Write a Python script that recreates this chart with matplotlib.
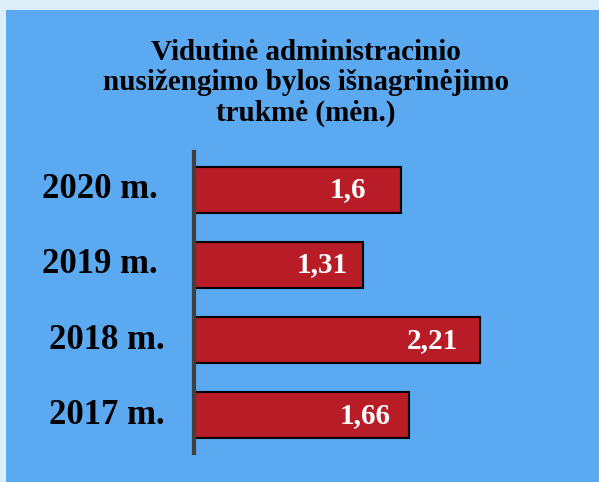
import matplotlib.pyplot as plt
import matplotlib.patches as patches

years = ['2020 m.', '2019 m.', '2018 m.', '2017 m.']
values = [1.6, 1.31, 2.21, 1.66]
value_texts = ['1,6', '1,31', '2,21', '1,66']
title = 'Vidutinė administracinio\nnusižengimo bylos išnagrinėjimo\ntrukmė (mėn.)'

border_color = '#DCEEF8'
panel_color = '#5AA9F1'
bar_color = '#B81C27'

plt.rcParams['font.family'] = ['Liberation Serif', 'DejaVu Serif']

fig = plt.figure(figsize=(5.99, 4.82), dpi=100, facecolor=border_color)
fig.patches.append(patches.Rectangle((6 / 599, 0), 1, 472 / 482, transform=fig.transFigure,
                                     facecolor=panel_color, edgecolor='none', zorder=-10))

ax = fig.add_axes([194 / 599, 29 / 482, 366 / 599, 301 / 482])
ax.set_facecolor('none')

pos = list(range(len(years)))[::-1]
ax.barh(pos, values, height=0.61, color=bar_color, edgecolor='black', linewidth=1.5, zorder=3)
ax.set_xlim(0, 2.83)
ax.set_ylim(-0.5, 3.5)

# value labels inside the bar end
gaps = [25, 11, 16, 13]
for p, v, t, g in zip(pos, values, value_texts, gaps):
    ax.annotate(t, (v, p), xytext=(-g, 0), textcoords='offset points',
                ha='right', va='center', color='white', fontsize=21, fontweight='bold')

# category labels
pads = [26, 26, 21, 21]
for p, lab, pad in zip(pos, years, pads):
    ax.annotate(lab, (0, p), xytext=(-pad, 0), textcoords='offset points',
                ha='right', va='center', color='black', fontsize=25, fontweight='bold')

ax.set_xticks([])
ax.set_yticks([])
for s in ['top', 'right', 'bottom']:
    ax.spines[s].set_visible(False)
ax.spines['left'].set_color('#404040')
ax.spines['left'].set_linewidth(3)
ax.spines['left'].set_zorder(4)

fig.text(306 / 599, 1 - 39 / 482, title, ha='center', va='top', fontsize=21,
         fontweight='bold', linespacing=1.15)

fig.savefig('out.png', dpi=100, facecolor=fig.get_facecolor())
